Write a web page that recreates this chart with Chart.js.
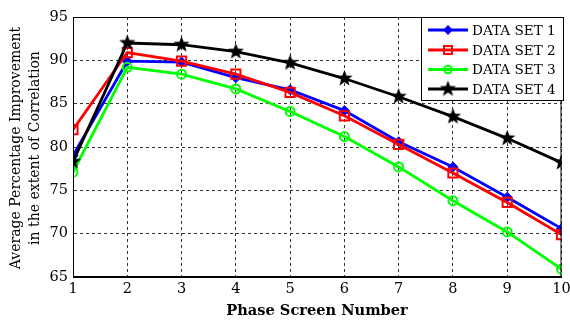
<!DOCTYPE html>
<html>
<head>
<meta charset="utf-8">
<script src="https://cdn.jsdelivr.net/npm/chart.js@4"></script>
<style>
html,body{margin:0;padding:0;background:#fff;}
#wrap{width:570px;height:324px;position:relative;}
</style>
</head>
<body>
<div id="wrap"><canvas id="c" width="570" height="324"></canvas></div>
<script>
const phaseScreens = [1, 2, 3, 4, 5, 6, 7, 8, 9, 10];
const dataSet1 = [79.0, 89.9, 89.8, 88.0, 86.6, 84.2, 80.6, 77.7, 74.2, 70.6];
const dataSet2 = [82.0, 90.9, 89.9, 88.4, 86.3, 83.6, 80.3, 77.0, 73.6, 69.9];
const dataSet3 = [77.1, 89.2, 88.4, 86.7, 84.1, 81.2, 77.7, 73.8, 70.2, 65.9];
const dataSet4 = [78.3, 92.0, 91.8, 91.0, 89.7, 87.9, 85.8, 83.5, 81.0, 78.2];
const seriesNames = ['DATA SET 1', 'DATA SET 2', 'DATA SET 3', 'DATA SET 4'];
const yTicks = [65, 70, 75, 80, 85, 90, 95];
const xTitle = 'Phase Screen Number';
const yTitle = ['Average Percentage Improvement', 'in the extent of Correlation'];

function makeStar(color, R, r) {
  const s = Math.ceil(R * 2 + 2);
  const cv = document.createElement('canvas');
  cv.width = s; cv.height = s;
  const g = cv.getContext('2d');
  g.fillStyle = color;
  g.beginPath();
  for (let i = 0; i < 10; i++) {
    const ang = -Math.PI / 2 + i * Math.PI / 5;
    const rad = i % 2 === 0 ? R : r;
    const px = s / 2 + rad * Math.cos(ang), py = s / 2 + rad * Math.sin(ang);
    if (i === 0) g.moveTo(px, py); else g.lineTo(px, py);
  }
  g.closePath();
  g.fill();
  return cv;
}
const starImg = makeStar('#000000', 8.5, 3.6);

const pts = arr => arr.map((v, i) => ({x: phaseScreens[i], y: v}));

const datasets = [
  {label: seriesNames[0], data: pts(dataSet1), borderColor: '#0000ff', backgroundColor: '#0000ff',
   pointStyle: 'rectRot', pointRadius: 5, pointBorderWidth: 1, borderWidth: 2.8, order: 3},
  {label: seriesNames[1], data: pts(dataSet2), borderColor: '#ff0000', backgroundColor: 'rgba(0,0,0,0)',
   pointStyle: 'rect', pointRadius: 6.5, pointBorderWidth: 2, borderWidth: 2.8, order: 2},
  {label: seriesNames[2], data: pts(dataSet3), borderColor: '#00ff00', backgroundColor: 'rgba(0,0,0,0)',
   pointStyle: 'circle', pointRadius: 4.5, pointBorderWidth: 2, borderWidth: 2.8, order: 1},
  {label: seriesNames[3], data: pts(dataSet4), borderColor: '#000000', backgroundColor: '#000000',
   pointStyle: starImg, pointRadius: 8, pointBorderWidth: 0, borderWidth: 2.8, order: 0}
];
datasets.forEach(d => { d.fill = false; d.tension = 0; d.pointBackgroundColor = d.backgroundColor; d.pointBorderColor = d.borderColor; });

const FONT = '"DejaVu Serif", "Liberation Serif", serif';

const decor = {
  id: 'decor',
  afterDatasetsDraw(chart) {
    const ctx = chart.ctx, a = chart.chartArea;
    ctx.save();
    ctx.strokeStyle = '#000';
    ctx.lineWidth = 1;
    ctx.setLineDash([]);
    ctx.strokeRect(a.left + 0.5, a.top + 0.5, a.right - a.left - 1, a.bottom - a.top - 1);
    const lx = 421, ly = 17, lw = 142, lh = 83;
    ctx.fillStyle = '#fff';
    ctx.fillRect(lx, ly, lw, lh);
    ctx.strokeRect(lx + 0.5, ly + 0.5, lw, lh);
    const rows = [30, 50, 69.5, 89];
    chart.data.datasets.forEach((d, i) => {
      const y = rows[i];
      ctx.strokeStyle = d.borderColor;
      ctx.lineWidth = 2.8;
      ctx.beginPath(); ctx.moveTo(428, y); ctx.lineTo(468, y); ctx.stroke();
      const mx = 448;
      ctx.lineWidth = d.pointBorderWidth;
      if (d.pointStyle === 'rectRot') {
        ctx.fillStyle = d.borderColor;
        ctx.beginPath(); ctx.moveTo(mx, y - 5); ctx.lineTo(mx + 5, y); ctx.lineTo(mx, y + 5); ctx.lineTo(mx - 5, y); ctx.closePath(); ctx.fill();
      } else if (d.pointStyle === 'rect') {
        ctx.strokeRect(mx - 4, y - 4, 8, 8);
      } else if (d.pointStyle === 'circle') {
        ctx.beginPath(); ctx.arc(mx, y, 3.8, 0, Math.PI * 2); ctx.stroke();
      } else {
        ctx.drawImage(d.pointStyle, mx - d.pointStyle.width / 2, y - d.pointStyle.height / 2);
      }
      ctx.fillStyle = '#000';
      ctx.font = '13.6px ' + FONT;
      ctx.textAlign = 'left';
      ctx.textBaseline = 'middle';
      ctx.fillText(d.label, 472, y + 1);
    });
    ctx.fillStyle = '#000';
    ctx.font = 'bold 14.6px ' + FONT;
    ctx.textAlign = 'center';
    ctx.textBaseline = 'middle';
    ctx.fillText(xTitle, 317, 311);
    ctx.font = '14px ' + FONT;
    ctx.save();
    ctx.translate(16, 148);
    ctx.rotate(-Math.PI / 2);
    ctx.fillText(yTitle[0], 0, 0);
    ctx.restore();
    ctx.save();
    ctx.translate(35, 148);
    ctx.rotate(-Math.PI / 2);
    ctx.fillText(yTitle[1], 0, 0);
    ctx.restore();
    ctx.restore();
  }
};

new Chart(document.getElementById('c'), {
  type: 'line',
  data: {datasets},
  options: {
    responsive: false,
    animation: false,
    devicePixelRatio: 1,
    layout: {padding: {top: 17, right: 6, left: 0, bottom: 0}},
    plugins: {legend: {display: false}, tooltip: {enabled: false}},
    scales: {
      x: {
        type: 'linear', min: 1, max: 10, offset: false,
        ticks: {stepSize: 1, color: '#000', font: {family: FONT, size: 14.5}, padding: 4, maxRotation: 0,
                callback: v => phaseScreens.includes(v) ? String(v) : ''},
        grid: {color: '#333', lineWidth: 1, drawTicks: false},
        border: {display: true, color: '#000', dash: [3, 3]},
        afterFit(s) { s.height = 47; s.paddingLeft = 0; s.paddingRight = 0; }
      },
      y: {
        type: 'linear', min: 65, max: 95,
        afterBuildTicks(s) { s.ticks = yTicks.map(v => ({value: v})); },
        ticks: {color: '#000', font: {family: FONT, size: 14.5}, padding: 5},
        grid: {color: '#333', lineWidth: 1, drawTicks: false},
        border: {display: true, color: '#000', dash: [3, 3]},
        afterFit(s) { s.width = 73; s.paddingTop = 0; s.paddingBottom = 0; }
      }
    }
  },
  plugins: [decor]
});
</script>
</body>
</html>
